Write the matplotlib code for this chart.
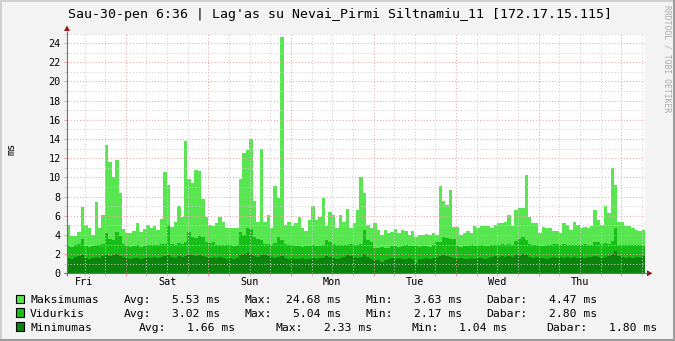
import numpy as np
import matplotlib
matplotlib.use("Agg")
import matplotlib.pyplot as plt
from matplotlib.patches import Rectangle, Polygon
import matplotlib.transforms as mtransforms

# ---------------- data ----------------
start_hour = 6.9          # hours after Friday 00:00 where the graph starts
days = ["Fri", "Sat", "Sun", "Mon", "Tue", "Wed", "Thu"]
y_ticks = list(range(0, 26, 2))

maksimumas = [
    5.0, 3.9, 3.9, 4.3, 6.9, 5.0, 4.7, 4.0, 7.4, 4.7,
    6.1, 13.4, 11.6, 10.0, 11.8, 8.4, 4.6, 4.2, 4.2, 4.4,
    5.2, 4.3, 4.6, 5.0, 4.7, 4.9, 4.5, 5.7, 10.6, 9.2,
    4.8, 5.3, 7.0, 5.9, 13.8, 9.8, 9.4, 10.8, 10.7, 7.7,
    5.9, 5.0, 4.9, 5.2, 5.9, 5.4, 4.7, 4.7, 4.7, 4.7,
    9.8, 12.5, 12.9, 13.95, 7.5, 5.4, 13.0, 5.4, 6.1, 4.7,
    9.1, 7.8, 24.68, 5.0, 5.4, 4.9, 5.2, 5.9, 4.7, 4.4,
    5.6, 7.0, 5.6, 5.9, 7.8, 4.9, 6.4, 6.1, 4.7, 6.1,
    5.4, 6.7, 4.7, 5.2, 6.6, 10.0, 8.4, 5.0, 4.7, 5.2,
    4.5, 4.0, 4.5, 4.2, 4.3, 4.6, 4.2, 4.5, 4.4, 4.0,
    4.4, 3.8, 4.0, 4.0, 4.1, 4.0, 4.2, 4.0, 9.1, 7.5,
    7.1, 8.7, 4.8, 4.8, 4.0, 4.2, 4.4, 4.2, 4.9, 4.7,
    4.9, 4.9, 4.9, 4.7, 5.0, 5.2, 5.2, 5.4, 6.1, 4.9,
    6.6, 6.8, 6.8, 10.3, 5.9, 5.2, 5.2, 4.2, 4.8, 4.7,
    4.7, 4.4, 4.4, 4.2, 5.2, 5.0, 4.5, 5.4, 5.0, 4.7,
    4.8, 4.7, 4.9, 6.6, 5.6, 5.0, 7.0, 6.3, 11.0, 9.2,
    5.4, 5.4, 4.9, 4.9, 4.7, 4.5, 4.4, 4.47,
]

vidurkis = [
    2.8, 2.7, 2.9, 3.1, 3.6, 2.8, 2.7, 2.8, 3.0, 3.0,
    3.1, 4.2, 3.6, 3.5, 4.3, 3.9, 3.1, 2.8, 2.7, 2.8,
    2.9, 2.7, 2.8, 3.0, 3.0, 2.9, 3.0, 3.1, 3.1, 5.04,
    3.1, 3.0, 3.2, 3.1, 3.3, 4.3, 3.8, 3.7, 3.9, 3.8,
    3.3, 3.2, 3.3, 3.0, 2.9, 3.0, 2.9, 3.0, 2.8, 3.0,
    4.3, 4.0, 4.7, 4.6, 3.8, 3.6, 3.5, 3.1, 3.1, 3.0,
    3.2, 3.8, 3.5, 3.1, 3.0, 2.9, 2.8, 2.8, 2.7, 2.8,
    2.8, 2.9, 2.8, 2.8, 2.9, 3.5, 3.3, 3.1, 3.0, 3.0,
    3.0, 2.9, 3.1, 3.0, 3.0, 3.1, 4.5, 3.5, 3.3, 2.6,
    2.6, 2.7, 2.6, 2.6, 2.8, 2.8, 2.7, 2.8, 2.9, 2.8,
    2.8, 2.8, 2.7, 2.8, 2.8, 2.7, 2.9, 3.3, 3.3, 3.8,
    3.7, 3.6, 3.6, 2.8, 2.7, 2.8, 2.8, 2.9, 2.8, 2.8,
    2.9, 2.8, 2.8, 3.0, 3.0, 2.9, 3.1, 3.0, 3.1, 3.0,
    3.4, 3.6, 3.8, 3.5, 3.1, 3.0, 2.9, 2.8, 2.8, 2.9,
    3.0, 3.1, 3.1, 3.0, 3.1, 3.0, 3.0, 2.9, 3.0, 3.0,
    3.1, 3.0, 3.0, 3.3, 3.3, 3.1, 3.2, 3.1, 3.4, 4.7,
    3.0, 3.0, 2.9, 3.0, 2.9, 3.0, 2.9, 2.8,
]

minimumas = [
    1.6, 1.5, 1.7, 1.8, 1.9, 1.6, 1.5, 1.6, 1.7, 1.6,
    1.8, 1.9, 1.8, 1.9, 2.0, 1.8, 1.7, 1.6, 1.5, 1.6,
    1.6, 1.5, 1.6, 1.7, 1.6, 1.7, 1.6, 1.7, 1.8, 1.9,
    1.7, 1.6, 1.8, 1.7, 1.8, 2.0, 1.9, 1.8, 1.9, 1.8,
    1.7, 1.6, 1.7, 1.6, 1.7, 1.6, 1.5, 1.6, 1.5, 1.6,
    1.9, 2.0, 2.1, 2.0, 1.8, 1.7, 1.9, 1.9, 1.8, 1.7,
    1.6, 1.7, 1.8, 1.6, 1.5, 1.6, 1.5, 1.5, 1.6, 1.5,
    1.5, 1.6, 1.5, 1.6, 1.6, 1.8, 1.7, 1.6, 1.5, 1.6,
    1.7, 1.9, 1.8, 1.7, 1.6, 1.7, 2.0, 1.7, 1.5, 1.4,
    1.4, 1.2, 1.4, 1.5, 1.6, 1.5, 1.6, 1.5, 1.5, 1.6,
    1.5, 1.04, 1.5, 1.5, 1.6, 1.5, 1.6, 1.7, 1.8, 1.9,
    1.8, 1.7, 1.6, 1.5, 1.6, 1.5, 1.5, 1.6, 1.5, 1.6,
    1.6, 1.5, 1.6, 1.7, 1.8, 1.7, 1.8, 1.7, 1.8, 1.7,
    1.9, 1.8, 2.0, 1.9, 1.7, 1.6, 1.7, 1.6, 1.6, 1.5,
    1.6, 1.7, 1.6, 1.7, 1.6, 1.7, 1.6, 1.7, 1.6, 1.7,
    1.6, 1.7, 1.7, 1.8, 1.7, 1.6, 1.7, 1.8, 2.0, 2.33,
    1.8, 1.7, 1.6, 1.7, 1.6, 1.7, 1.7, 1.8,
]

series_names = ["Maksimumas", "Vidurkis", "Minimumas"]
avg_vals = ["5.53", "3.02", "1.66"]
max_vals = ["24.68", "5.04", "2.33"]
min_vals = ["3.63", "2.17", "1.04"]
cur_vals = ["4.47", "2.80", "1.80"]

title = "Sau-30-pen 6:36 | Lag'as su Nevai_Pirmi Siltnamiu_11 [172.17.15.115]"

# ---------------- style ----------------
W, H = 675, 341
C_MAX, C_MID, C_MIN = "#57E650", "#17BE17", "#0A840A"
GRID_MINOR = "#CFCFCF"
GRID_MAJOR = "#E4A5A5"
MONO = "DejaVu Sans Mono"

fig = plt.figure(figsize=(W / 100, H / 100), dpi=100)
fig.patch.set_facecolor("#F3F3F3")

L, R, T, B = 67, 645, 33.5, 273.3
ax = fig.add_axes([L / W, 1 - B / H, (R - L) / W, (B - T) / H])
ax.set_facecolor("white")

x = start_hour + np.arange(len(maksimumas))
ax.bar(x, maksimumas, width=1.0, align="edge", color=C_MAX, linewidth=0, zorder=1)
ax.bar(x, vidurkis, width=1.0, align="edge", color=C_MID, linewidth=0, zorder=1.1)
ax.bar(x, minimumas, width=1.0, align="edge", color=C_MIN, linewidth=0, zorder=1.2)

ax.set_xlim(start_hour, start_hour + 168)
ax.set_ylim(0, 25)

# grid / ticks
ax.set_yticks(y_ticks)
ax.set_yticks([v for v in range(1, 26, 2)], minor=True)
ax.set_xticks([24 * k for k in range(1, 8)])
ax.set_xticks([6 * k for k in range(2, 30) if k % 4 != 0], minor=True)
ax.set_axisbelow(False)
ax.grid(which="major", color=GRID_MAJOR, linestyle=(0, (1, 2)), linewidth=0.75)
ax.grid(which="minor", color=GRID_MINOR, linestyle=(0, (1, 2)), linewidth=0.75)
ax.tick_params(which="major", axis="both", length=2.4, width=0.75, color=GRID_MAJOR,
               direction="out")
ax.tick_params(which="minor", axis="both", length=2.4, width=0.75, color=GRID_MINOR,
               direction="out")
ax.tick_params(axis="y", labelsize=7.3, pad=2.2)
ax.set_xticklabels([])
for lab in ax.get_yticklabels():
    lab.set_fontfamily(MONO)
for s in ax.spines.values():
    s.set_visible(False)

# day labels at noon
trans = mtransforms.blended_transform_factory(ax.transData, ax.transAxes)
for k, d in enumerate(days):
    ax.text(12 + 24 * k, -0.05, d, transform=trans, ha="center", va="baseline",
            fontsize=7.3, family=MONO, color="black")

# ---------------- decorations in pixel space ----------------
ov = fig.add_axes([0, 0, 1, 1], zorder=10)
ov.set_xlim(0, W)
ov.set_ylim(H, 0)
ov.axis("off")
ov.patch.set_alpha(0)

# frame
ov.add_patch(Rectangle((0, 0), W, 2, color="#CFCFCF", lw=0))
ov.add_patch(Rectangle((0, 0), 2, H, color="#CFCFCF", lw=0))
ov.add_patch(Rectangle((0, H - 2), W, 2, color="#9C9C9C", lw=0))
ov.add_patch(Rectangle((W - 2, 0), 2, H, color="#9C9C9C", lw=0))

# axis lines with arrows
AX_C = "#707070"
ARROW_C = "#8E1A1A"
ov.plot([L, L], [B + 3, 31], color=AX_C, lw=0.8, solid_capstyle="butt")
ov.plot([L - 3, R + 2], [B, B], color=AX_C, lw=0.8, solid_capstyle="butt")
ov.add_patch(Polygon([[L - 3, 31], [L + 3, 31], [L, 25.5]], closed=True, color=ARROW_C, lw=0))
ov.add_patch(Polygon([[R + 2, B - 3], [R + 2, B + 3], [R + 7.5, B]], closed=True,
                     color=ARROW_C, lw=0))

# title
ov.text(340, 18.3, title, ha="center", va="baseline", fontsize=9.5, family=MONO,
        color="black")
# y label
ov.text(11.5, 149, "ms", ha="center", va="center", rotation=90, fontsize=7.3,
        family=MONO, color="black")
# credit
ov.text(667, 5, "RRDTOOL / TOBI OETIKER", ha="center", va="top", rotation=270,
        fontsize=5.8, family=MONO, color="#ABABAB")

# legend
colors = [C_MAX, C_MID, C_MIN]
baselines = [303.0, 316.7, 330.7]
col_x = [
    [30.7, 124, 172.3, 244.7, 286.7, 365.7, 414.7, 486.7, 550],
    [30.7, 124, 172.3, 244.7, 293.5, 365.7, 414.7, 486.7, 550],
    [30.7, 139, 187.7, 276, 325, 411.7, 460, 547.3, 610],
]
for i in range(3):
    yb = baselines[i]
    ov.add_patch(Rectangle((15.5, yb - 8.5), 8.5, 8.5, facecolor=colors[i],
                           edgecolor="black", lw=0.8))
    parts = [series_names[i], "Avg:", avg_vals[i] + " ms", "Max:", max_vals[i] + " ms",
             "Min:", min_vals[i] + " ms", "Dabar:", cur_vals[i] + " ms"]
    for px, txt in zip(col_x[i], parts):
        ov.text(px - 0.6, yb, txt, ha="left", va="baseline", fontsize=8.2, family=MONO,
                color="black")

fig.savefig("out.png", dpi=100, facecolor=fig.get_facecolor())
